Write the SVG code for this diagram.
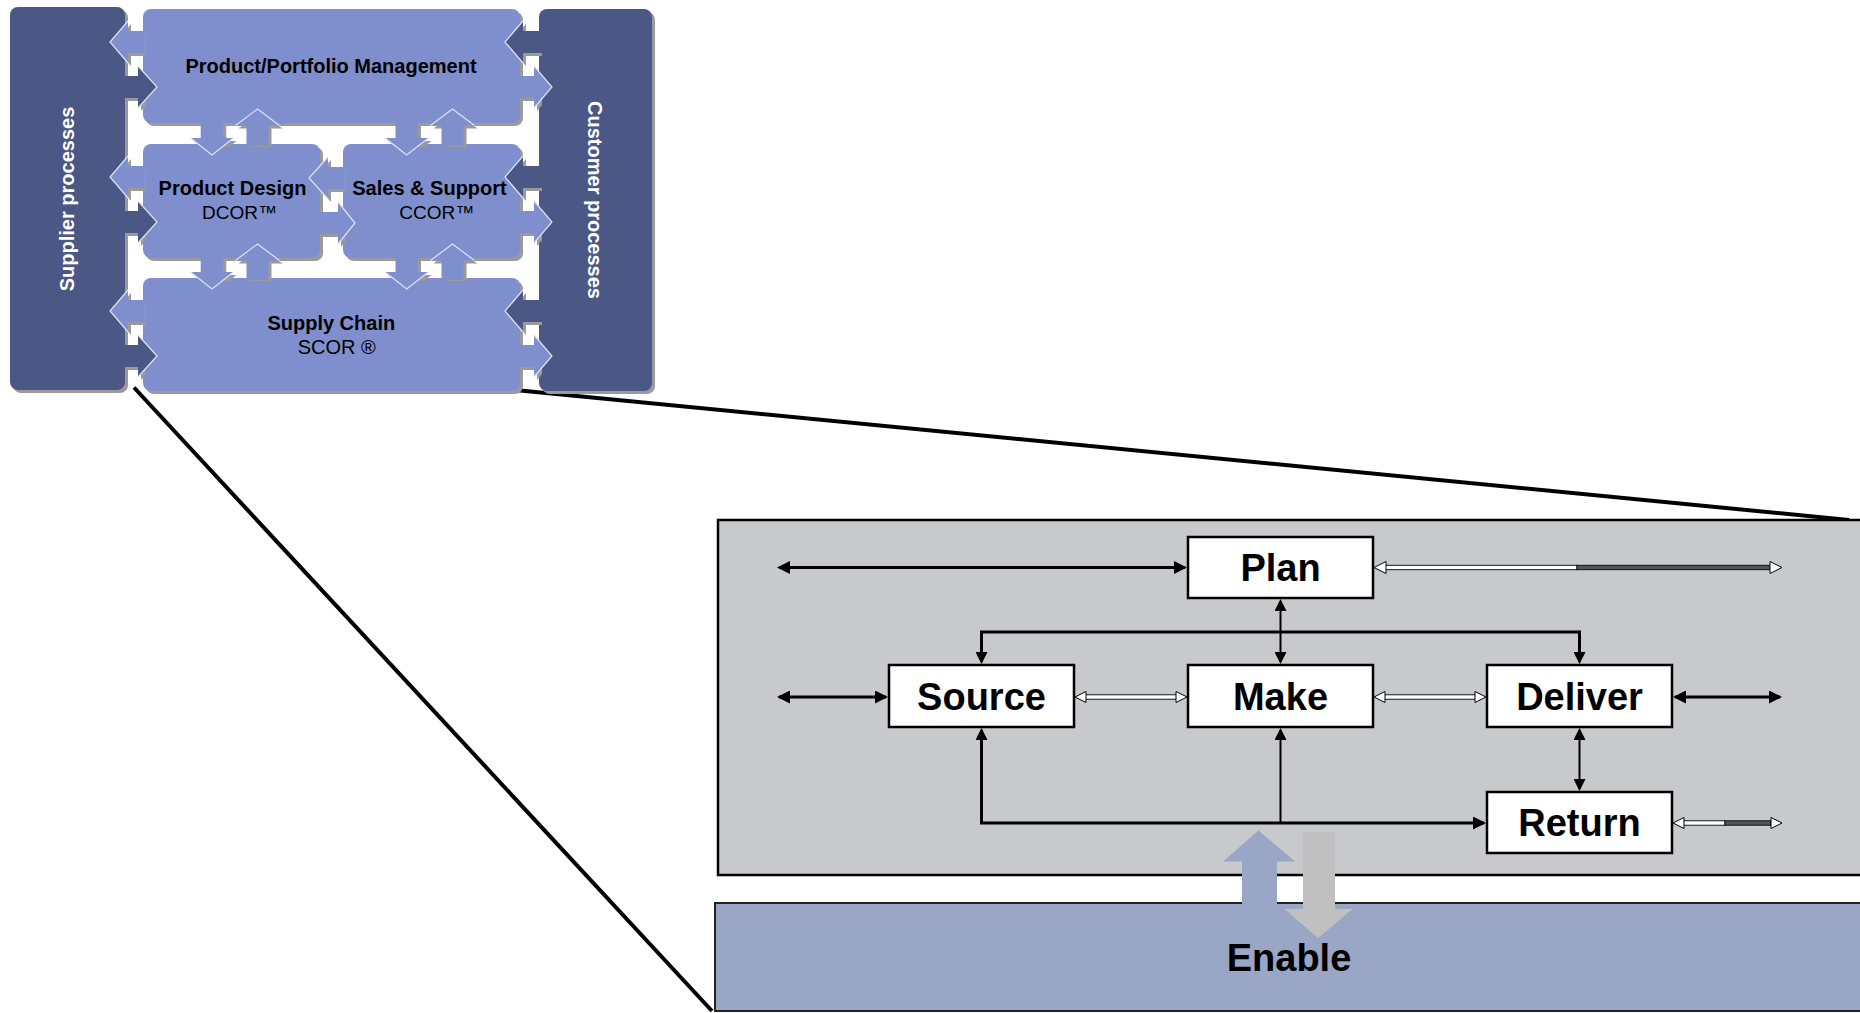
<svg xmlns="http://www.w3.org/2000/svg" width="1860" height="1013" viewBox="0 0 1860 1013">
<style>
.dark{fill:#4b5784}
.light{fill:#7f8fcd}
.shd{fill:#9a9a9a}
.edge{fill:none;stroke:#dde3f6;stroke-width:1.2}
.t{font-family:"Liberation Sans",Arial,sans-serif;fill:#000}
.b{font-weight:bold}
.side{font-family:"Liberation Sans",Arial,sans-serif;font-weight:bold;font-size:20px;fill:#fff}
.box{fill:#fff;stroke:#000;stroke-width:2.5}
.bl{font-family:"Liberation Sans",Arial,sans-serif;font-weight:bold;font-size:38px;fill:#000;text-anchor:middle}
.ln{fill:none;stroke:#000;stroke-width:3}
.lt{fill:none;stroke:#000;stroke-width:2}
.hol{fill:#fff;stroke:#000;stroke-width:1}
.sh{fill:#fff;stroke:#000;stroke-width:0.9}
.shk{fill:#555;stroke:#000;stroke-width:0.9}
</style>
<defs>
<marker id="ah" viewBox="0 0 13 13" refX="11" refY="6.5" markerWidth="13" markerHeight="13" markerUnits="userSpaceOnUse" orient="auto-start-reverse"><path d="M0,0 L13,6.5 L0,13 z" fill="#000"/></marker>
<marker id="ahs" viewBox="0 0 12 12" refX="10" refY="6" markerWidth="12" markerHeight="12" markerUnits="userSpaceOnUse" orient="auto-start-reverse"><path d="M0,0 L12,6 L0,12 z" fill="#000"/></marker>
<clipPath id="gaps">
<rect x="124" y="0" width="19" height="400"/>
<rect x="520" y="0" width="19" height="400"/>
<rect x="124" y="123" width="415" height="21"/>
<rect x="124" y="258" width="415" height="20"/>
<rect x="320" y="144" width="23" height="114"/>
</clipPath>
</defs>

<g id="zoom-lines">
<line x1="134" y1="387.5" x2="712" y2="1011" stroke="#000" stroke-width="4"/>
<line x1="515" y1="390" x2="1849" y2="520" stroke="#000" stroke-width="4"/>
</g>

<g id="shadows">
<rect class="shd" x="13" y="10" width="115" height="383" rx="8"/>
<rect class="shd" x="542" y="12" width="113" height="382" rx="8"/>
<rect class="shd" x="146" y="12" width="377" height="114" rx="8"/>
<rect class="shd" x="146" y="147" width="177" height="114" rx="8"/>
<rect class="shd" x="346" y="147" width="177" height="114" rx="8"/>
<rect class="shd" x="146" y="281" width="377" height="113" rx="8"/>
</g>

<g id="supplier"><rect class="dark" x="10" y="7" width="115" height="383" rx="8"/>
<text class="side" text-anchor="middle" transform="translate(74,199) rotate(-90)">Supplier processes</text></g>
<g id="customer"><rect class="dark" x="539" y="9" width="113" height="382" rx="8"/>
<text class="side" text-anchor="middle" transform="translate(588,200) rotate(90)">Customer processes</text></g>
<g id="block-ppm"><rect class="light" x="143" y="9" width="377" height="114" rx="8"/></g>
<g id="block-pd"><rect class="light" x="143" y="144" width="177" height="114" rx="8"/></g>
<g id="block-ss"><rect class="light" x="343" y="144" width="177" height="114" rx="8"/></g>
<g id="block-sc"><rect class="light" x="143" y="278" width="377" height="113" rx="8"/></g>

<g id="block-arrows">
<g clip-path="url(#gaps)" transform="translate(3,3)" class="shd">
<polygon points="145,31 128,31 128,21 110,42 128,63 128,53 145,53"/>
<polygon points="145,166 128,166 128,156 110,177 128,198 128,188 145,188"/>
<polygon points="145,300 128,300 128,290 110,311 128,332 128,322 145,322"/>
<polygon points="122,76 138,76 138,66 157,87 138,108 138,98 122,98"/>
<polygon points="122,211 138,211 138,201 157,222 138,243 138,233 122,233"/>
<polygon points="122,345 138,345 138,335 157,356 138,377 138,367 122,367"/>
<polygon points="542,31 523,31 523,21 505,42 523,63 523,53 542,53"/>
<polygon points="542,166 523,166 523,156 505,177 523,198 523,188 542,188"/>
<polygon points="542,300 523,300 523,290 505,311 523,332 523,322 542,322"/>
<polygon points="518,76 534,76 534,66 552,87 534,108 534,98 518,98"/>
<polygon points="518,211 534,211 534,201 552,222 534,243 534,233 518,233"/>
<polygon points="518,345 534,345 534,335 552,356 534,377 534,367 518,367"/>
<polygon points="345,167 328,167 328,157 309,178 328,199 328,189 345,189"/>
<polygon points="318,212 338,212 338,202 355,223 338,244 338,234 318,234"/>
<polygon points="200.7,121 200.7,138 190.5,138 212,155 233.5,138 223.3,138 223.3,121"/>
<polygon points="246.5,146 246.5,125.5 235.5,125.5 257.5,109 279.5,125.5 268.5,125.5 268.5,146"/>
<polygon points="395.5,121 395.5,138 385,138 406.7,155 428.5,138 418,138 418,121"/>
<polygon points="441.5,146 441.5,125.5 430.5,125.5 452.5,109 474.5,125.5 463.5,125.5 463.5,146"/>
<polygon points="200.7,256 200.7,272 190.5,272 212,289 233.5,272 223.3,272 223.3,256"/>
<polygon points="246.5,280 246.5,260.5 235.5,260.5 257.5,244 279.5,260.5 268.5,260.5 268.5,280"/>
<polygon points="395.5,256 395.5,272 385,272 406.7,289 428.5,272 418,272 418,256"/>
<polygon points="441.5,280 441.5,260.5 430.5,260.5 452.5,244 474.5,260.5 463.5,260.5 463.5,280"/>
</g>
<polygon class="light" points="145,31 128,31 128,21 110,42 128,63 128,53 145,53"/>
<polygon class="light" points="145,166 128,166 128,156 110,177 128,198 128,188 145,188"/>
<polygon class="light" points="145,300 128,300 128,290 110,311 128,332 128,322 145,322"/>
<polygon class="dark" points="122,76 138,76 138,66 157,87 138,108 138,98 122,98"/>
<polygon class="dark" points="122,211 138,211 138,201 157,222 138,243 138,233 122,233"/>
<polygon class="dark" points="122,345 138,345 138,335 157,356 138,377 138,367 122,367"/>
<polygon class="dark" points="542,31 523,31 523,21 505,42 523,63 523,53 542,53"/>
<polygon class="dark" points="542,166 523,166 523,156 505,177 523,198 523,188 542,188"/>
<polygon class="dark" points="542,300 523,300 523,290 505,311 523,332 523,322 542,322"/>
<polygon class="light" points="518,76 534,76 534,66 552,87 534,108 534,98 518,98"/>
<polygon class="light" points="518,211 534,211 534,201 552,222 534,243 534,233 518,233"/>
<polygon class="light" points="518,345 534,345 534,335 552,356 534,377 534,367 518,367"/>
<polygon class="light" points="345,167 328,167 328,157 309,178 328,199 328,189 345,189"/>
<polygon class="light" points="318,212 338,212 338,202 355,223 338,244 338,234 318,234"/>
<polygon class="light" points="200.7,121 200.7,138 190.5,138 212,155 233.5,138 223.3,138 223.3,121"/>
<polygon class="light" points="246.5,146 246.5,125.5 235.5,125.5 257.5,109 279.5,125.5 268.5,125.5 268.5,146"/>
<polygon class="light" points="395.5,121 395.5,138 385,138 406.7,155 428.5,138 418,138 418,121"/>
<polygon class="light" points="441.5,146 441.5,125.5 430.5,125.5 452.5,109 474.5,125.5 463.5,125.5 463.5,146"/>
<polygon class="light" points="200.7,256 200.7,272 190.5,272 212,289 233.5,272 223.3,272 223.3,256"/>
<polygon class="light" points="246.5,280 246.5,260.5 235.5,260.5 257.5,244 279.5,260.5 268.5,260.5 268.5,280"/>
<polygon class="light" points="395.5,256 395.5,272 385,272 406.7,289 428.5,272 418,272 418,256"/>
<polygon class="light" points="441.5,280 441.5,260.5 430.5,260.5 452.5,244 474.5,260.5 463.5,260.5 463.5,280"/>
<polyline class="edge" points="128,21 110,42 128,63"/>
<polyline class="edge" points="128,156 110,177 128,198"/>
<polyline class="edge" points="128,290 110,311 128,332"/>
<polyline class="edge" points="138,66 157,87 138,108"/>
<polyline class="edge" points="138,201 157,222 138,243"/>
<polyline class="edge" points="138,335 157,356 138,377"/>
<polyline class="edge" points="523,21 505,42 523,63"/>
<polyline class="edge" points="523,156 505,177 523,198"/>
<polyline class="edge" points="523,290 505,311 523,332"/>
<polyline class="edge" points="534,66 552,87 534,108"/>
<polyline class="edge" points="534,201 552,222 534,243"/>
<polyline class="edge" points="534,335 552,356 534,377"/>
<polyline class="edge" points="328,157 309,178 328,199"/>
<polyline class="edge" points="338,202 355,223 338,244"/>
<polyline class="edge" points="190.5,138 212,155 233.5,138"/>
<polyline class="edge" points="235.5,125.5 257.5,109 279.5,125.5"/>
<polyline class="edge" points="385,138 406.7,155 428.5,138"/>
<polyline class="edge" points="430.5,125.5 452.5,109 474.5,125.5"/>
<polyline class="edge" points="190.5,272 212,289 233.5,272"/>
<polyline class="edge" points="235.5,260.5 257.5,244 279.5,260.5"/>
<polyline class="edge" points="385,272 406.7,289 428.5,272"/>
<polyline class="edge" points="430.5,260.5 452.5,244 474.5,260.5"/>
</g>

<g id="block-labels">
<text class="t b" x="331" y="73" font-size="20" text-anchor="middle">Product/Portfolio Management</text>
<text class="t b" x="232.5" y="195" font-size="20" text-anchor="middle">Product Design</text>
<text class="t" x="239.5" y="219" font-size="19" text-anchor="middle">DCOR™</text>
<text class="t b" x="429.5" y="195" font-size="20" text-anchor="middle">Sales &amp; Support</text>
<text class="t" x="436.7" y="219" font-size="19" text-anchor="middle">CCOR™</text>
<text class="t b" x="331.3" y="330" font-size="20" text-anchor="middle">Supply Chain</text>
<text class="t" x="336.8" y="354" font-size="20" text-anchor="middle">SCOR ®</text>
</g>

<g id="process-panel"><rect x="718" y="520" width="1160" height="355" fill="#c8c9cc" stroke="#000" stroke-width="2.5"/></g>
<g id="enable"><rect x="715" y="903" width="1160" height="108" fill="#99a6c5" stroke="#222" stroke-width="2"/>
<text class="bl" x="1289" y="971">Enable</text></g>

<g id="plan"><rect class="box" x="1188" y="537" width="185" height="61"/><text class="bl" x="1280.5" y="581">Plan</text></g>
<g id="source"><rect class="box" x="889" y="665" width="185" height="62"/><text class="bl" x="981.5" y="710">Source</text></g>
<g id="make"><rect class="box" x="1188" y="665" width="185" height="62"/><text class="bl" x="1280.5" y="710">Make</text></g>
<g id="deliver"><rect class="box" x="1487" y="665" width="185" height="62"/><text class="bl" x="1579.5" y="710">Deliver</text></g>
<g id="return"><rect class="box" x="1487" y="792" width="185" height="61"/><text class="bl" x="1579.5" y="836">Return</text></g>

<g id="connectors">
<line class="ln" x1="779" y1="567.5" x2="1185" y2="567.5" marker-start="url(#ah)" marker-end="url(#ah)"/>
<line class="ln" x1="779" y1="697" x2="886" y2="697" marker-start="url(#ah)" marker-end="url(#ah)"/>
<line class="ln" x1="1675" y1="697" x2="1780" y2="697" marker-start="url(#ah)" marker-end="url(#ah)"/>
<path class="ln" d="M981.5,662 V632 H1579.5 V662" marker-start="url(#ahs)" marker-end="url(#ahs)"/>
<line class="lt" x1="1280.5" y1="601" x2="1280.5" y2="662" marker-start="url(#ahs)" marker-end="url(#ahs)"/>
<path class="ln" d="M981.5,730 V823 H1484" marker-start="url(#ahs)" marker-end="url(#ah)"/>
<line class="lt" x1="1280.5" y1="823" x2="1280.5" y2="730" marker-end="url(#ahs)"/>
<line class="lt" x1="1579.5" y1="730" x2="1579.5" y2="789" marker-start="url(#ahs)" marker-end="url(#ahs)"/>
<rect class="sh" x="1385" y="565.3" width="192" height="4.4"/>
<rect class="shk" x="1577" y="565.3" width="194" height="4.4"/>
<polygon class="hol" points="1374,567.5 1386,561.5 1386,573.5"/>
<polygon class="hol" points="1782,567.5 1770,561.5 1770,573.5"/>
<rect class="sh" x="1085" y="694.8" width="92" height="4.4"/>
<polygon class="hol" points="1075,697 1086,691.5 1086,702.5"/>
<polygon class="hol" points="1187,697 1176,691.5 1176,702.5"/>
<rect class="sh" x="1384" y="694.8" width="93" height="4.4"/>
<polygon class="hol" points="1374,697 1385,691.5 1385,702.5"/>
<polygon class="hol" points="1486,697 1475,691.5 1475,702.5"/>
<rect class="sh" x="1683" y="820.8" width="42" height="4.4"/>
<rect class="shk" x="1725" y="820.8" width="46" height="4.4"/>
<polygon class="hol" points="1673,823 1684,817.5 1684,828.5"/>
<polygon class="hol" points="1782,823 1771,817.5 1771,828.5"/>
<polygon fill="#99a6c5" points="1242,905 1242,861.5 1223,861.5 1258.5,830.5 1295,861.5 1277,861.5 1277,905"/>
<polygon fill="#c0c0c0" points="1303,832 1335,832 1335,909 1352.5,909 1318,938 1284.5,909 1303,909"/>
</g>
</svg>
